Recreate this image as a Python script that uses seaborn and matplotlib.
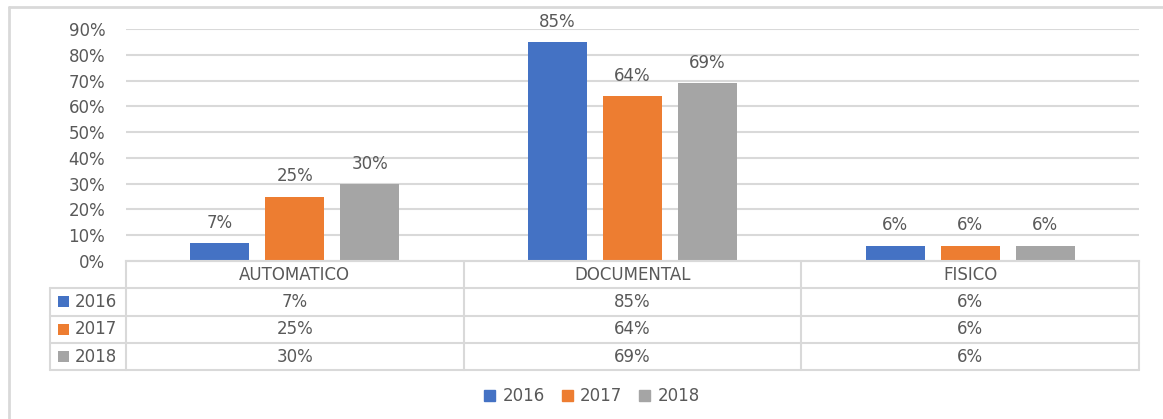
import matplotlib
matplotlib.use('Agg')
import matplotlib.pyplot as plt
import matplotlib.patches as mpatches
import pandas as pd
import seaborn as sns

# Chart data
categories = ['AUTOMATICO', 'DOCUMENTAL', 'FISICO']
years = ['2016', '2017', '2018']
values_2016 = [0.07, 0.85, 0.06]
values_2017 = [0.25, 0.64, 0.06]
values_2018 = [0.30, 0.69, 0.06]
y_ticks = [0.0, 0.1, 0.2, 0.3, 0.4, 0.5, 0.6, 0.7, 0.8, 0.9]

colors = ['#4472C4', '#ED7D31', '#A5A5A5']
text_color = '#595959'
line_color = '#D9D9D9'
fs = 12

sns.set_theme(style='white')
plt.rcParams['font.family'] = ['DejaVu Sans']

series = {'2016': values_2016, '2017': values_2017, '2018': values_2018}
rows = []
for yr in years:
    for cat, v in zip(categories, series[yr]):
        rows.append({'category': cat, 'year': yr, 'value': v})
df = pd.DataFrame(rows)

W, H = 1163, 419
fig = plt.figure(figsize=(W / 100, H / 100), dpi=100)

# plot area in pixel coords
x0, x1 = 126, 1139
y_top, y_zero = 29, 261
ax = fig.add_axes([x0 / W, 1 - y_zero / H, (x1 - x0) / W, (y_zero - y_top) / H])

sns.barplot(data=df, x='category', y='value', hue='year', palette=colors,
            order=categories, hue_order=years, width=0.666, gap=0.21,
            saturation=1, linewidth=0, ax=ax, legend=False)

ax.set_ylim(0, 0.9)
ax.set_xlim(-0.5, len(categories) - 0.5)
ax.set_yticks(y_ticks)
ax.set_yticklabels([f'{t:.0%}' for t in y_ticks], fontsize=fs, color=text_color)
ax.tick_params(axis='y', length=0, pad=15)
ax.set_xticks([])
ax.set_xlabel('')
ax.set_ylabel('')
ax.yaxis.grid(True, color=line_color, lw=1.5)
ax.set_axisbelow(True)
for s in ['top', 'right', 'left']:
    ax.spines[s].set_visible(False)
ax.spines['bottom'].set_color(line_color)
ax.spines['bottom'].set_linewidth(1.5)

for cont in ax.containers:
    ax.bar_label(cont, labels=[f'{v:.0%}' for v in cont.datavalues],
                 padding=8, fontsize=fs, color=text_color)

# overlay in pixel coords for data table and frame
ov = fig.add_axes([0, 0, 1, 1], zorder=-1)
ov.set_xlim(0, W)
ov.set_ylim(H, 0)
ov.axis('off')

# outer frame (only top and left edges are visible)
ov.plot([9, 9], [H, 7], color=line_color, lw=2)
ov.plot([9, W], [7, 7], color=line_color, lw=2)

lbl_x0 = 50
row_h = 27.3
n = len(categories)
col_w = (x1 - x0) / n
col_edges = [x0 + i * col_w for i in range(n + 1)]
row_edges = [y_zero + i * row_h for i in range(len(years) + 2)]
tbl_kw = dict(color=line_color, lw=1.5)

# horizontal lines
ov.plot([x0, x1], [row_edges[0]] * 2, **tbl_kw)
for yy in row_edges[1:]:
    ov.plot([lbl_x0, x1], [yy, yy], **tbl_kw)
# vertical lines
for xx in col_edges:
    ov.plot([xx, xx], [row_edges[0], row_edges[-1]], **tbl_kw)
ov.plot([lbl_x0, lbl_x0], [row_edges[1], row_edges[-1]], **tbl_kw)

# header
for i, cat in enumerate(categories):
    ov.text(x0 + (i + 0.5) * col_w, (row_edges[0] + row_edges[1]) / 2, cat,
            ha='center', va='center', fontsize=fs, color=text_color)
# rows
for r, yr in enumerate(years):
    yc = (row_edges[r + 1] + row_edges[r + 2]) / 2
    ov.add_patch(mpatches.Rectangle((58, yc - 5.5), 11, 11, color=colors[r], lw=0))
    ov.text(75, yc, yr, ha='left', va='center', fontsize=fs, color=text_color)
    for i, v in enumerate(series[yr]):
        ov.text(x0 + (i + 0.5) * col_w, yc, f'{v:.0%}', ha='center', va='center',
                fontsize=fs, color=text_color)

# legend
handles = [mpatches.Patch(color=c, label=yr) for c, yr in zip(colors, years)]
leg = fig.legend(handles=handles, loc='center', bbox_to_anchor=(592 / W, 1 - 396 / H),
                 ncol=3, frameon=False, fontsize=fs, handlelength=0.65, handleheight=0.65,
                 handletextpad=0.45, columnspacing=1.0)
for t in leg.get_texts():
    t.set_color(text_color)

fig.savefig('out.png', dpi=100)
